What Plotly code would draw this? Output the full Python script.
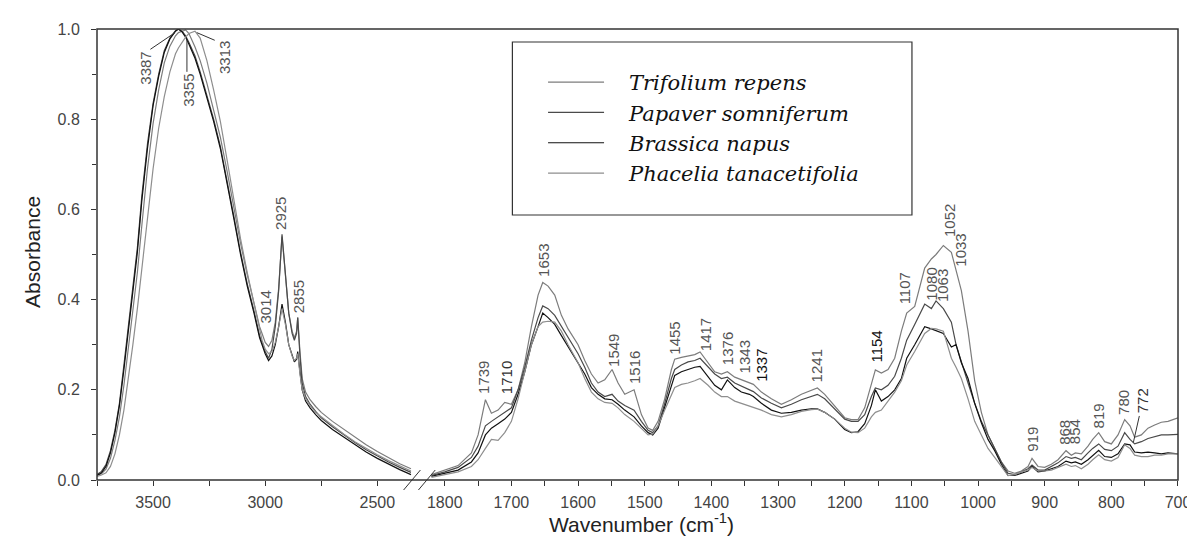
import plotly.graph_objects as go

# ---------------- data ----------------
wn_left = [3750, 3730, 3710, 3690, 3670, 3650, 3630, 3610, 3590, 3570,
           3550, 3525, 3500, 3475, 3450, 3425, 3400, 3387, 3370, 3355,
           3340, 3313, 3290, 3260, 3230, 3200, 3170, 3140, 3110, 3080,
           3050, 3025, 3014, 3000, 2985, 2970, 2955, 2940, 2925, 2910,
           2895, 2880, 2870, 2860, 2855, 2845, 2835, 2820, 2800, 2775,
           2750, 2700, 2650, 2600, 2550, 2500, 2450, 2400, 2350]

wn_right = [1820, 1800, 1780, 1760, 1750, 1739, 1730, 1720, 1710, 1700,
            1690, 1680, 1670, 1660, 1653, 1645, 1635, 1625, 1615, 1600,
            1590, 1580, 1570, 1560, 1549, 1540, 1530, 1516, 1505, 1495,
            1488, 1480, 1470, 1460, 1455, 1445, 1435, 1425, 1417, 1405,
            1395, 1385, 1376, 1365, 1355, 1343, 1337, 1325, 1310, 1295,
            1280, 1265, 1250, 1241, 1230, 1215, 1200, 1190, 1180, 1170,
            1160, 1154, 1145, 1135, 1125, 1115, 1107, 1095, 1080, 1070,
            1063, 1052, 1040, 1033, 1025, 1015, 1005, 995, 985, 975,
            965, 955, 945, 935, 925, 919, 910, 900, 890, 880,
            868, 860, 854, 845, 835, 828, 819, 810, 800, 790,
            780, 772, 765, 755, 745, 735, 725, 715, 700]

trifolium_left = [0.010, 0.014, 0.024, 0.048, 0.088, 0.140, 0.210, 0.290, 0.375, 0.460,
                  0.565, 0.690, 0.790, 0.865, 0.925, 0.962, 0.985, 0.992, 0.995, 0.998,
                  0.990, 0.960, 0.930, 0.880, 0.820, 0.760, 0.685, 0.605, 0.525, 0.455,
                  0.390, 0.340, 0.325, 0.305, 0.296, 0.310, 0.350, 0.425, 0.540, 0.455,
                  0.370, 0.330, 0.315, 0.330, 0.360, 0.285, 0.225, 0.195, 0.178, 0.163,
                  0.150, 0.130, 0.112, 0.095, 0.078, 0.063, 0.049, 0.036, 0.025]
papaver_left = [0.012, 0.019, 0.034, 0.065, 0.110, 0.170, 0.255, 0.340, 0.425, 0.515,
                0.630, 0.745, 0.835, 0.900, 0.952, 0.980, 0.996, 1.000, 0.995, 0.985,
                0.970, 0.940, 0.905, 0.855, 0.800, 0.740, 0.665, 0.585, 0.505, 0.435,
                0.375, 0.320, 0.305, 0.285, 0.270, 0.290, 0.340, 0.420, 0.545, 0.460,
                0.370, 0.325, 0.310, 0.325, 0.360, 0.275, 0.215, 0.185, 0.168, 0.152,
                0.138, 0.118, 0.100, 0.083, 0.067, 0.053, 0.040, 0.028, 0.017]
brassica_left = [0.010, 0.016, 0.030, 0.060, 0.105, 0.165, 0.245, 0.330, 0.415, 0.505,
                 0.620, 0.735, 0.830, 0.895, 0.948, 0.978, 0.995, 1.000, 0.993, 0.982,
                 0.966, 0.935, 0.900, 0.850, 0.795, 0.735, 0.660, 0.580, 0.500, 0.430,
                 0.370, 0.315, 0.300, 0.280, 0.265, 0.275, 0.300, 0.340, 0.390, 0.350,
                 0.300, 0.275, 0.262, 0.268, 0.285, 0.240, 0.200, 0.175, 0.160, 0.145,
                 0.132, 0.112, 0.095, 0.078, 0.062, 0.048, 0.035, 0.023, 0.012]
phacelia_left = [0.008, 0.011, 0.016, 0.030, 0.058, 0.100, 0.155, 0.225, 0.300, 0.380,
                 0.470, 0.585, 0.690, 0.780, 0.850, 0.905, 0.945, 0.958, 0.972, 0.982,
                 0.990, 0.995, 0.980, 0.930, 0.865, 0.795, 0.710, 0.620, 0.535, 0.460,
                 0.390, 0.330, 0.310, 0.290, 0.280, 0.285, 0.305, 0.340, 0.380, 0.345,
                 0.300, 0.275, 0.265, 0.270, 0.280, 0.235, 0.200, 0.180, 0.165, 0.150,
                 0.140, 0.120, 0.102, 0.085, 0.070, 0.056, 0.043, 0.031, 0.020]

trifolium_right = [0.012, 0.022, 0.032, 0.060, 0.100, 0.178, 0.148, 0.155, 0.172, 0.168,
                   0.200, 0.260, 0.340, 0.410, 0.438, 0.430, 0.410, 0.365, 0.335, 0.300,
                   0.265, 0.235, 0.215, 0.222, 0.245, 0.215, 0.190, 0.200, 0.145, 0.115,
                   0.110, 0.130, 0.180, 0.245, 0.268, 0.272, 0.275, 0.278, 0.284, 0.260,
                   0.240, 0.235, 0.240, 0.228, 0.222, 0.215, 0.212, 0.195, 0.180, 0.168,
                   0.178, 0.190, 0.198, 0.204, 0.190, 0.165, 0.138, 0.134, 0.134, 0.160,
                   0.215, 0.244, 0.237, 0.245, 0.270, 0.330, 0.370, 0.385, 0.470, 0.490,
                   0.500, 0.520, 0.505, 0.465, 0.420, 0.330, 0.220, 0.150, 0.100, 0.070,
                   0.040, 0.020, 0.015, 0.020, 0.030, 0.048, 0.030, 0.028, 0.035, 0.045,
                   0.065, 0.055, 0.060, 0.058, 0.075, 0.090, 0.105, 0.085, 0.080, 0.100,
                   0.134, 0.120, 0.095, 0.100, 0.115, 0.122, 0.128, 0.130, 0.138]
papaver_right = [0.010, 0.018, 0.028, 0.050, 0.075, 0.120, 0.130, 0.140, 0.150, 0.160,
                 0.200, 0.250, 0.310, 0.360, 0.386, 0.380, 0.365, 0.340, 0.315, 0.280,
                 0.250, 0.215, 0.195, 0.185, 0.190, 0.175, 0.165, 0.155, 0.130, 0.110,
                 0.105, 0.120, 0.170, 0.225, 0.245, 0.255, 0.262, 0.265, 0.270, 0.250,
                 0.235, 0.225, 0.228, 0.215, 0.208, 0.200, 0.196, 0.182, 0.170, 0.160,
                 0.168, 0.178, 0.186, 0.190, 0.180, 0.158, 0.135, 0.130, 0.130, 0.145,
                 0.185, 0.204, 0.200, 0.210, 0.230, 0.270, 0.310, 0.345, 0.390, 0.380,
                 0.397, 0.380, 0.350, 0.300, 0.260, 0.215, 0.170, 0.130, 0.100, 0.070,
                 0.040, 0.015, 0.012, 0.018, 0.025, 0.033, 0.022, 0.022, 0.030, 0.038,
                 0.052, 0.048, 0.050, 0.045, 0.060, 0.070, 0.080, 0.068, 0.065, 0.075,
                 0.105, 0.090, 0.080, 0.085, 0.092, 0.096, 0.100, 0.100, 0.101]
brassica_right = [0.008, 0.015, 0.022, 0.040, 0.060, 0.100, 0.115, 0.125, 0.135, 0.150,
                  0.190, 0.240, 0.300, 0.340, 0.370, 0.360, 0.345, 0.320, 0.295, 0.260,
                  0.235, 0.205, 0.190, 0.180, 0.178, 0.168, 0.155, 0.140, 0.120, 0.105,
                  0.100, 0.115, 0.160, 0.210, 0.232, 0.240, 0.245, 0.250, 0.252, 0.230,
                  0.210, 0.200, 0.222, 0.205, 0.195, 0.190, 0.185, 0.170, 0.155, 0.148,
                  0.150, 0.155, 0.158, 0.158, 0.150, 0.135, 0.112, 0.105, 0.107, 0.125,
                  0.165, 0.200, 0.175, 0.185, 0.200, 0.225, 0.270, 0.300, 0.340, 0.335,
                  0.331, 0.325, 0.295, 0.300, 0.260, 0.225, 0.170, 0.127, 0.090, 0.065,
                  0.035, 0.010, 0.010, 0.015, 0.020, 0.030, 0.018, 0.020, 0.025, 0.030,
                  0.042, 0.038, 0.040, 0.035, 0.045, 0.055, 0.066, 0.052, 0.050, 0.058,
                  0.080, 0.078, 0.062, 0.060, 0.062, 0.060, 0.058, 0.060, 0.058]
phacelia_right = [0.006, 0.012, 0.018, 0.030, 0.045, 0.070, 0.090, 0.088, 0.105, 0.130,
                  0.180, 0.240, 0.300, 0.340, 0.350, 0.352, 0.350, 0.330, 0.300, 0.260,
                  0.225, 0.195, 0.180, 0.172, 0.170, 0.160, 0.145, 0.130, 0.115, 0.100,
                  0.102, 0.120, 0.155, 0.190, 0.205, 0.212, 0.215, 0.220, 0.225, 0.210,
                  0.195, 0.185, 0.185, 0.175, 0.170, 0.165, 0.162, 0.155, 0.145, 0.140,
                  0.145, 0.152, 0.156, 0.157, 0.150, 0.135, 0.115, 0.106, 0.105, 0.115,
                  0.140, 0.150, 0.155, 0.175, 0.195, 0.220, 0.255, 0.285, 0.325, 0.336,
                  0.335, 0.330, 0.270, 0.250, 0.225, 0.180, 0.130, 0.100, 0.070, 0.050,
                  0.030, 0.010, 0.012, 0.018, 0.022, 0.028, 0.020, 0.020, 0.022, 0.028,
                  0.035, 0.030, 0.032, 0.025, 0.035, 0.045, 0.056, 0.045, 0.042, 0.050,
                  0.078, 0.070, 0.055, 0.052, 0.052, 0.055, 0.055, 0.058, 0.058]

species = ["Trifolium repens", "Papaver somniferum", "Brassica napus", "Phacelia tanacetifolia"]
left_values = [trifolium_left, papaver_left, brassica_left, phacelia_left]
right_values = [trifolium_right, papaver_right, brassica_right, phacelia_right]

x_ticks_left = [3500, 3000, 2500]
y_ticks = [0.0, 0.2, 0.4, 0.6, 0.8, 1.0]

# peak labels: (text, axis, wavenumber, absorbance, colour)
peak_labels = [
    ("3387", "x", 3534, 0.913, "#555555"),
    ("3355", "x", 3340, 0.865, "#555555"),
    ("3313", "x", 3181, 0.937, "#555555"),
    ("3014", "x", 3000, 0.383, "#555555"),
    ("2925", "x", 2932, 0.591, "#555555"),
    ("2855", "x", 2850, 0.407, "#555555"),
    ("1739", "x2", 1743, 0.228, "#555555"),
    ("1710", "x2", 1708, 0.226, "#333333"),
    ("1653", "x2", 1651, 0.486, "#555555"),
    ("1549", "x2", 1547, 0.287, "#555555"),
    ("1516", "x2", 1515, 0.250, "#555555"),
    ("1455", "x2", 1455, 0.315, "#555555"),
    ("1417", "x2", 1409, 0.322, "#555555"),
    ("1376", "x2", 1376, 0.291, "#555555"),
    ("1343", "x2", 1351, 0.272, "#555555"),
    ("1337", "x2", 1325, 0.254, "#111111"),
    ("1241", "x2", 1243, 0.252, "#555555"),
    ("1154", "x2", 1153, 0.296, "#111111"),
    ("1107", "x2", 1111, 0.425, "#555555"),
    ("1080", "x2", 1070, 0.434, "#555555"),
    ("1063", "x2", 1054, 0.430, "#555555"),
    ("1052", "x2", 1043, 0.575, "#555555"),
    ("1033", "x2", 1026, 0.510, "#555555"),
    ("919", "x2", 918, 0.091, "#555555"),
    ("868", "x2", 870, 0.106, "#555555"),
    ("854", "x2", 856, 0.106, "#555555"),
    ("819", "x2", 820, 0.141, "#555555"),
    ("780", "x2", 781, 0.171, "#555555"),
    ("772", "x2", 753, 0.176, "#333333"),
]
# leader lines: (axis, x0, y0, x1, y1)
leaders = [
    ("x", 3512, 0.955, 3402, 0.992),
    ("x", 3349, 0.905, 3349, 0.977),
    ("x", 3225, 0.975, 3305, 0.992),
    ("x2", 758, 0.142, 767, 0.083),
]

# ---------------- figure ----------------
colors = ["#7c7c7c", "#4a4a4a", "#111111", "#8e8e8e"]
fig = go.Figure()
for name, col, yl, yr in zip(species, colors, left_values, right_values):
    fig.add_trace(go.Scatter(x=wn_left, y=yl, mode="lines", name="\u00a0\u00a0\u00a0" + name,
                             legendgroup=name, line=dict(color=col, width=1.2),
                             xaxis="x", yaxis="y"))
    fig.add_trace(go.Scatter(x=wn_right, y=yr, mode="lines", name=name, legendgroup=name,
                             showlegend=False, line=dict(color=col, width=1.2),
                             xaxis="x2", yaxis="y"))

W, H = 1195, 540
ML, MR, MT, MB = 89, 13, 21, 68
PW, PH = W - ML - MR, H - MT - MB


def px(xp):
    return (xp - ML) / PW


def py(yp):
    return (H - MB - yp) / PH


sans = "Liberation Sans, Arial, sans-serif"
tickfont = dict(family=sans, size=16, color="#444444")
axis_common = dict(showgrid=False, zeroline=False, showline=False, ticks="outside",
                   ticklen=5, tickwidth=1, tickcolor="#333333", tickfont=tickfont,
                   ticklabeloverflow="allow")

fig.update_layout(
    width=W, height=H,
    margin=dict(l=ML, r=MR, t=MT, b=MB),
    plot_bgcolor="white", paper_bgcolor="white",
    xaxis=dict(domain=[0, 0.2946], range=[3750, 2330], anchor="y",
               tickmode="array", tickvals=x_ticks_left, ticklabelstandoff=3,
               minor=dict(dtick=250, tick0=0, ticks="outside", ticklen=5, tickcolor="#333333"),
               **axis_common),
    xaxis2=dict(domain=[0.3032, 1], range=[1830, 700], anchor="y",
                tickmode="linear", tick0=0, dtick=100, ticklabelstandoff=3,
                minor=dict(dtick=50, tick0=0, ticks="outside", ticklen=5, tickcolor="#333333"),
                **axis_common),
    yaxis=dict(domain=[0, 1], range=[0, 1.0], tickmode="array", tickvals=y_ticks,
               tickformat=".1f", ticklabelstandoff=8,
               minor=dict(dtick=0.1, tick0=0, ticks="outside", ticklen=4, tickcolor="#333333"),
               **axis_common),
    showlegend=True,
    legend=dict(x=px(540), y=py(54), xanchor="left", yanchor="top",
                bgcolor="rgba(0,0,0,0)", borderwidth=0, tracegroupgap=0,
                itemwidth=56, traceorder="normal",
                font=dict(family="DejaVu Serif, serif", size=21, color="#111111",
                          style="italic")),
)

shapes = [
    # frame
    dict(type="rect", xref="paper", yref="paper", x0=0, x1=1, y0=0, y1=1,
         line=dict(color="#333333", width=1.5), fillcolor="rgba(0,0,0,0)"),
    # legend box
    dict(type="rect", xref="paper", yref="paper", x0=px(509), x1=px(913),
         y0=py(207), y1=py(34), line=dict(color="#333333", width=1.2),
         fillcolor="rgba(0,0,0,0)"),
    # axis break marks
    dict(type="line", xref="paper", yref="paper", x0=px(399), y0=py(482), x1=px(416), y1=py(462),
         line=dict(color="#333333", width=1)),
    dict(type="line", xref="paper", yref="paper", x0=px(414), y0=py(482), x1=px(431), y1=py(462),
         line=dict(color="#333333", width=1)),
]
for ax, x0, y0, x1, y1 in leaders:
    shapes.append(dict(type="line", xref=ax, yref="y", x0=x0, y0=y0, x1=x1, y1=y1,
                       line=dict(color="#333333", width=1)))
fig.update_layout(shapes=shapes)

annotations = []
for text, ax, xv, yv, col in peak_labels:
    annotations.append(dict(text=text, xref=ax, yref="y", x=xv, y=yv, showarrow=False,
                            textangle=-90, xanchor="center", yanchor="middle",
                            font=dict(family=sans, size=15, color=col)))
annotations.append(dict(text="Absorbance", xref="paper", yref="paper", x=px(24), y=0.505,
                        showarrow=False, textangle=-90, xanchor="center", yanchor="middle",
                        font=dict(family=sans, size=21, color="#222222")))
annotations.append(dict(text="Wavenumber (cm<sup>-1</sup>)", xref="paper", yref="paper",
                        x=px(640), y=py(515), showarrow=False, xanchor="center",
                        yanchor="middle",
                        font=dict(family=sans, size=21, color="#222222")))
fig.update_layout(annotations=annotations)

fig.write_html("out.html")
